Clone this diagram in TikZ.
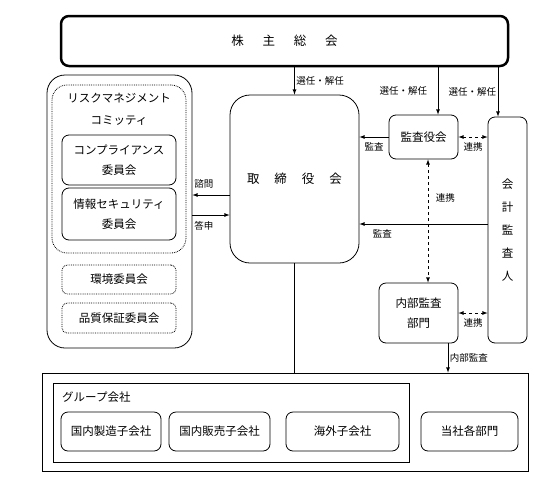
\documentclass[tikz,border=0pt]{standalone}
\usepackage{fontspec}
\setmainfont{Noto Sans CJK JP}
\usepackage{tikz}
\usetikzlibrary{arrows}

\begin{document}
\begin{tikzpicture}[
				x=1pt, y=-1pt,
				box style/.style={
					draw,
					rounded corners=7pt,
					align=center,
					inner sep=0pt,
					line width=0.8pt,
					font=\fontsize{11.5}{20}\selectfont
				},
				dot style/.style={box style, densely dotted},
				plain style/.style={draw, inner sep=0pt, line width=0.8pt},
				lab style/.style={font=\fontsize{9.5}{11}\selectfont, inner sep=1.5pt},
				>=latex
				]
				\useasboundingbox (0,0) rectangle (543,488);
				
				% top and board
				\node[box style, line width=2.5pt, rounded corners=8pt, minimum width=447pt, minimum height=50pt,
				font=\fontsize{12.5}{14}\selectfont] (gm) at (284.5,41)
				{株\hspace{1.5em}主\hspace{1.5em}総\hspace{1.5em}会};
				
				\node[box style, rounded corners=20pt, minimum width=129pt, minimum height=168pt,
				font=\fontsize{12.5}{14}\selectfont] (board) at (294.5,179)
				{取\hspace{1.2em}締\hspace{1.2em}役\hspace{1.2em}会};
				
				% committees
				\node[box style, rounded corners=18pt, minimum width=145pt, minimum height=273pt] (risk) at (119.5,211.5) {};
				\node[dot style, rounded corners=15pt, minimum width=134pt, minimum height=168pt] (rmc) at (119,169) {};
				\node[align=center, inner sep=0pt, font=\fontsize{11.5}{22}\selectfont] (rmctext) at (119,109)
				{リスクマネジメント\\コミッティ};
				\node[box style, minimum width=114pt, minimum height=50pt] (comp) at (119,160)
				{コンプライアンス\\委員会};
				\node[box style, minimum width=114pt, minimum height=52pt] (info) at (119,214)
				{情報セキュリティ\\委員会};
				\node[dot style, rounded corners=5pt, minimum width=114pt, minimum height=29pt] (env) at (119,279.5)
				{環境委員会};
				\node[dot style, rounded corners=5pt, minimum width=114pt, minimum height=30pt] (qa) at (119,318)
				{品質保証委員会};
				
				% audit side
				\node[box style, minimum width=69pt, minimum height=44pt] (kansa) at (423.5,137) {監査役会};
				\node[box style, minimum width=39pt, minimum height=226pt, font=\fontsize{11.5}{23}\selectfont] (auditor) at (507.5,230)
				{会\\計\\監\\査\\人};
				\node[box style, minimum width=79pt, minimum height=60pt] (naibu) at (418.5,313)
				{内部監査\\部門};
				
				% bottom
				\node[plain style, minimum width=486pt, minimum height=98pt] (bottom) at (285,422) {};
				\node[plain style, minimum width=356pt, minimum height=79pt] (group) at (231,422.5) {};
				\node[anchor=west, inner sep=0pt, font=\fontsize{11.5}{13}\selectfont] (grouptext) at (62,397) {グループ会社};
				\node[box style, minimum width=100pt, minimum height=39pt] (sub1) at (111,431.5) {国内製造子会社};
				\node[box style, minimum width=101pt, minimum height=39pt] (sub2) at (219.5,431.5) {国内販売子会社};
				\node[box style, minimum width=113pt, minimum height=39pt] (sub3) at (342.5,431.5) {海外子会社};
				\node[box style, minimum width=97pt, minimum height=39pt] (dept) at (469.5,431.5) {当社各部門};
				
				\coordinate (xk) at (438,0);
				\coordinate (xa) at (498,0);
				\coordinate (xr) at (428,0);
				\coordinate (xn) at (448,0);
				\coordinate (ya) at (0,224);
				
				% connectors
				\draw[->, line width=0.8pt] (board.north |- gm.south) -- (board.north)
				node[midway, right, lab style] {選任・解任};
				\draw[->, line width=0.8pt] (gm.south -| xk) -- (kansa.north -| xk)
				node[midway, left, lab style, xshift=-9pt] {選任・解任};
				\draw[->, line width=0.8pt] (gm.south -| xa) -- (auditor.north -| xa)
				node[midway, left, lab style] {選任・解任};
				
				\draw[->, line width=0.8pt] (kansa.west) -- (kansa.west -| board.east)
				node[midway, below=4pt, lab style] {監査};
				\draw[<->, dashed, line width=0.8pt] (kansa.east) -- (kansa.east -| auditor.west)
				node[midway, below=4pt, lab style] {連携};
				\draw[->, line width=0.8pt] (auditor.west |- ya) -- (board.east |- ya)
				node[pos=0.82, below=4pt, lab style] {監査};
				\draw[<->, dashed, line width=0.8pt] (kansa.south -| xr) -- (naibu.north -| xr)
				node[pos=0.31, right=6pt, lab style] {連携};
				\draw[<->, dashed, line width=0.8pt] (naibu.east) -- (naibu.east -| auditor.west)
				node[midway, below=4pt, lab style] {連携};
				\draw[->, line width=0.8pt] (naibu.south -| xn) -- (bottom.north -| xn)
				node[midway, right, lab style] {内部監査};
				\draw[line width=0.8pt] (board.south) -- (board.south |- bottom.north);
				
				\draw[->, line width=0.8pt] ([yshift=-16pt]board.west) -- ([yshift=-16pt]board.west -| risk.east)
				node[pos=1, anchor=south west, lab style, yshift=5pt] {諮問};
				\draw[->, line width=0.8pt] ([yshift=-36pt]board.west -| risk.east) -- ([yshift=-36pt]board.west)
				node[pos=0, anchor=north west, lab style, yshift=-4pt] {答申};
				
			\end{tikzpicture}
\end{document}
